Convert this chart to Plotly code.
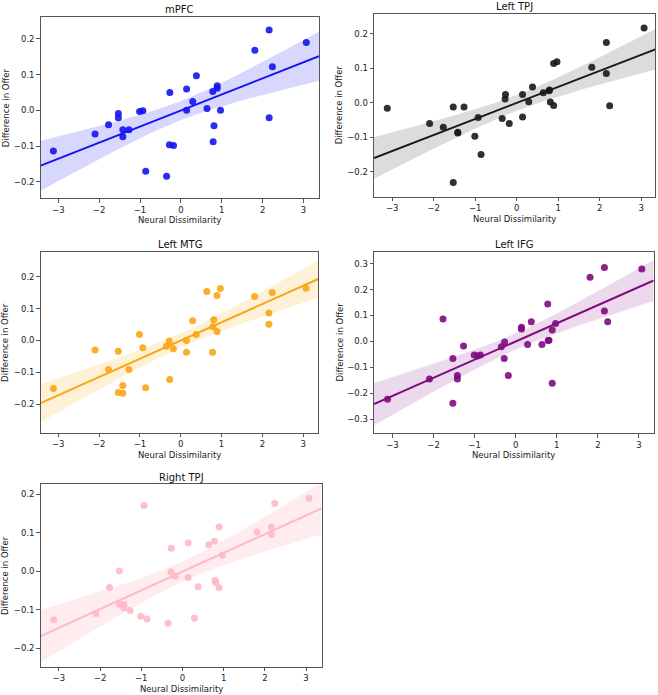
import numpy as np
import plotly.graph_objects as go

W, H = 658, 695

# Shared x values (one per participant)
neural_dissimilarity = [-3.12, -2.10, -1.77, -1.53, -1.53, -1.42, -1.42, -1.27, -1.01, -0.93,
                        -0.86, -0.35, -0.28, -0.27, -0.18, 0.14, 0.14, 0.29, 0.38, 0.64,
                        0.78, 0.79, 0.81, 0.89, 0.89, 0.97, 1.81, 2.16, 2.16, 2.24, 3.07]

mpfc = [-0.114, -0.066, -0.040, -0.009, -0.021, -0.054, -0.074, -0.054, -0.003, -0.001,
        -0.170, -0.184, -0.096, 0.050, -0.098, 0.060, 0.000, 0.025, 0.097, 0.005,
        0.053, -0.088, -0.043, 0.069, 0.062, 0.000, 0.168, 0.225, -0.021, 0.122, 0.190]

left_tpj = [-0.016, -0.060, -0.071, -0.012, -0.232, -0.086, -0.088, -0.012, -0.097, -0.043,
            -0.150, -0.046, 0.011, 0.024, -0.060, 0.024, -0.041, 0.003, 0.046, 0.029,
            0.035, 0.037, 0.002, -0.008, 0.114, 0.119, 0.103, 0.175, 0.085, -0.009, 0.217]

left_mtg = [-0.151, -0.030, -0.091, -0.034, -0.164, -0.142, -0.166, -0.091, 0.019, -0.023,
            -0.149, -0.018, -0.002, -0.123, -0.026, 0.000, -0.037, 0.062, 0.019, 0.154,
            -0.037, 0.043, 0.065, 0.141, 0.028, 0.163, 0.138, 0.086, 0.051, 0.151, 0.164]

left_ifg = [-0.224, -0.145, 0.086, -0.066, -0.239, -0.132, -0.145, -0.018, -0.053, -0.057,
            -0.053, -0.021, -0.066, -0.003, -0.132, 0.054, 0.048, -0.012, 0.076, -0.012,
            0.144, 0.003, 0.004, 0.044, -0.162, 0.069, 0.247, 0.285, 0.117, 0.076, 0.279]

right_tpj = [-0.126, -0.110, -0.042, 0.001, -0.085, -0.086, -0.095, -0.102, -0.117, 0.171,
             -0.124, -0.135, -0.002, 0.060, -0.013, 0.074, -0.016, -0.122, -0.040, 0.069,
             0.078, -0.024, -0.029, 0.115, -0.043, 0.042, 0.102, 0.115, 0.096, 0.176, 0.189]

region_names = ["mPFC", "Left TPJ", "Left MTG", "Left IFG", "Right TPJ"]
region_values = [mpfc, left_tpj, left_mtg, left_ifg, right_tpj]
x_ticks = [-3, -2, -1, 0, 1, 2, 3]
y_ticks_small = [-0.2, -0.1, 0.0, 0.1, 0.2]
y_ticks_large = [-0.3, -0.2, -0.1, 0.0, 0.1, 0.2, 0.3]

# Layout per panel: (left, top, right, bottom) in pixels, axis ranges, color
panels = [
    dict(box=(40.7, 16.7, 319.0, 198.3), xr=(-3.43, 3.38), yr=(-0.246, 0.262),
         yt=y_ticks_small, color=(20, 20, 240), band="rgba(40,40,255,0.18)"),
    dict(box=(374.0, 14.0, 655.3, 196.7), xr=(-3.44, 3.34), yr=(-0.273, 0.258),
         yt=y_ticks_small, color=(25, 25, 25), band="rgba(60,60,60,0.18)"),
    dict(box=(40.7, 251.7, 318.3, 432.7), xr=(-3.43, 3.37), yr=(-0.290, 0.279),
         yt=y_ticks_small, color=(250, 165, 20), band="rgba(255,165,0,0.16)"),
    dict(box=(374.0, 251.7, 653.7, 433.3), xr=(-3.45, 3.36), yr=(-0.355, 0.346),
         yt=y_ticks_large, color=(128, 10, 128), band="rgba(128,0,128,0.15)"),
    dict(box=(40.7, 484.0, 321.7, 666.7), xr=(-3.44, 3.38), yr=(-0.248, 0.227),
         yt=y_ticks_small, color=(255, 185, 196), band="rgba(255,192,203,0.30)"),
]


def fmt(v):
    s = f"{abs(v):.1f}"
    return ("\u2212" + s) if v < 0 else s


fig = go.Figure()
annotations = []
x = np.array(neural_dissimilarity)
n = len(x)
t_crit = 2.045

for i, (name, vals, p) in enumerate(zip(region_names, region_values, panels)):
    y = np.array(vals)
    ax = "" if i == 0 else str(i + 1)
    xref, yref = "x" + ax, "y" + ax
    slope, intercept = np.polyfit(x, y, 1)
    resid = y - (slope * x + intercept)
    s = np.sqrt(np.sum(resid ** 2) / (n - 2))
    sxx = np.sum((x - x.mean()) ** 2)
    xg = np.linspace(p["xr"][0], p["xr"][1], 100)
    yg = slope * xg + intercept
    se = s * np.sqrt(1 / n + (xg - x.mean()) ** 2 / sxx)
    lo, hi = yg - t_crit * se, yg + t_crit * se
    r, g, b = p["color"]
    col = f"rgb({r},{g},{b})"
    fig.add_trace(go.Scatter(x=np.concatenate([xg, xg[::-1]]), y=np.concatenate([hi, lo[::-1]]),
                             fill="toself", fillcolor=p["band"], line=dict(width=0),
                             mode="lines", hoverinfo="skip", showlegend=False,
                             xaxis=xref, yaxis=yref))
    fig.add_trace(go.Scatter(x=x, y=y, mode="markers",
                             marker=dict(size=7, color=f"rgba({r},{g},{b},0.9)", line=dict(width=0)),
                             showlegend=False, xaxis=xref, yaxis=yref))
    fig.add_trace(go.Scatter(x=xg, y=yg, mode="lines", line=dict(color=col, width=2),
                             showlegend=False, xaxis=xref, yaxis=yref))

    L, T, R, B = p["box"]
    axis_common = dict(showgrid=False, zeroline=False, showline=True, linecolor="#555555",
                       linewidth=1, mirror=True, ticks="outside", ticklen=3.5, tickwidth=1,
                       tickcolor="#555555",
                       tickfont=dict(family="DejaVu Sans", size=8.5, color="#222222"))
    fig.update_layout(**{
        "xaxis" + ax: dict(domain=[L / W, R / W], range=list(p["xr"]), anchor=yref,
                           tickvals=x_ticks, ticktext=[fmt(v).replace(".0", "") for v in x_ticks],
                           **axis_common),
        "yaxis" + ax: dict(domain=[1 - B / H, 1 - T / H], range=list(p["yr"]), anchor=xref,
                           tickvals=p["yt"], ticktext=[fmt(v) for v in p["yt"]],
                           **axis_common),
    })
    cx = (L + R) / 2
    annotations.append(dict(text=name, x=cx / W, y=1 - (T - 7) / H, xref="paper", yref="paper",
                            showarrow=False, xanchor="center", yanchor="middle",
                            font=dict(family="DejaVu Sans", size=10, color="#111111")))
    annotations.append(dict(text="Neural Dissimilarity", x=cx / W, y=1 - (B + 22) / H,
                            xref="paper", yref="paper", showarrow=False,
                            xanchor="center", yanchor="middle",
                            font=dict(family="DejaVu Sans", size=8.5, color="#222222")))
    annotations.append(dict(text="Difference in Offer", x=(L - 35) / W, y=1 - ((T + B) / 2) / H,
                            xref="paper", yref="paper", showarrow=False, textangle=-90,
                            xanchor="center", yanchor="middle",
                            font=dict(family="DejaVu Sans", size=8.5, color="#222222")))

fig.update_layout(width=W, height=H, margin=dict(l=0, r=0, t=0, b=0),
                  paper_bgcolor="white", plot_bgcolor="white", annotations=annotations,
                  showlegend=False)

fig.write_html("out.html", config={"displayModeBar": False},
               post_script="document.body.style.margin='0px';document.body.style.padding='0px';")
